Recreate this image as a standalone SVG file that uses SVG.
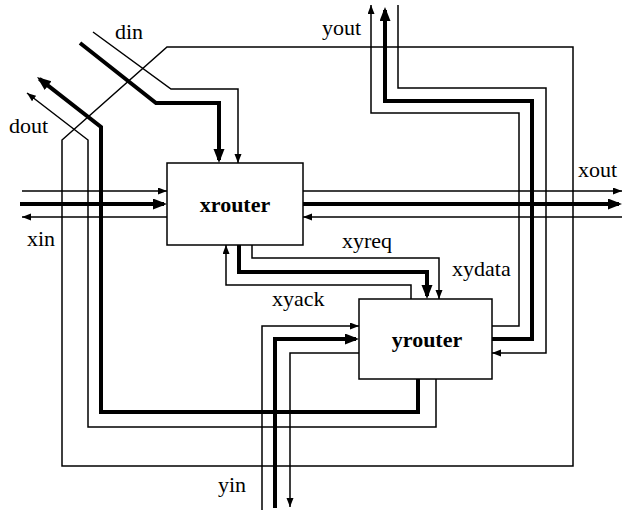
<svg xmlns="http://www.w3.org/2000/svg" width="623" height="510" viewBox="0 0 623 510">
<style>
.thin{fill:none;stroke:#000;stroke-width:1.5}
.thick{fill:none;stroke:#000;stroke-width:4}
.box{fill:#fff;stroke:#000;stroke-width:1.5}
.lbl{font-family:"Liberation Serif",serif;font-size:22px;fill:#000}
.name{font-family:"Liberation Serif",serif;font-size:22px;font-weight:bold;fill:#000;text-anchor:middle}
</style>
<defs>
<marker id="a" markerUnits="userSpaceOnUse" markerWidth="10" markerHeight="8" refX="9" refY="3.5" orient="auto"><path d="M0,0 L9,3.5 L0,7 z" fill="#000"/></marker>
<marker id="A" markerUnits="userSpaceOnUse" markerWidth="15" markerHeight="12" refX="11" refY="5.5" orient="auto"><path d="M0,0 L14,5.5 L0,11 z" fill="#000"/></marker>
</defs>
<rect width="623" height="510" fill="#fff"/>
<g id="connectors">
<path class="thin" d="M62,140 L62,466 L573,466 L573,47 L167,47 Z"/>
<path class="thin" d="M93,32 L171,89 L238,89 L238,163" marker-end="url(#a)"/>
<path class="thick" d="M80,43 L156,103 L219,103 L219,160" marker-end="url(#A)"/>
<path class="thin" d="M436,379 L436,427 L88,427 L88,140 L27,93" marker-end="url(#a)"/>
<path class="thick" d="M418,379 L418,412 L101,412 L101,127 L39.4,78.9" marker-end="url(#A)"/>
<path class="thin" d="M22,191 L167,191" marker-end="url(#a)"/>
<path class="thick" d="M20,204 L164,204" marker-end="url(#A)"/>
<path class="thin" d="M167,217 L22,217" marker-end="url(#a)"/>
<path class="thin" d="M303,191 L622,191" marker-end="url(#a)"/>
<path class="thick" d="M303,204 L619,204" marker-end="url(#A)"/>
<path class="thin" d="M622,217 L303,217" marker-end="url(#a)"/>
<path class="thin" d="M492,326 L519,326 L519,113 L371,113 L371,5" marker-end="url(#a)"/>
<path class="thick" d="M492,339 L532,339 L532,101 L385,101 L385,10" marker-end="url(#A)"/>
<path class="thin" d="M398,5 L398,88 L546,88 L546,353 L492,353" marker-end="url(#a)"/>
<path class="thin" d="M252,245 L252,258 L439,258 L439,299" marker-end="url(#a)"/>
<path class="thick" d="M239,245 L239,272 L427,272 L427,296" marker-end="url(#A)"/>
<path class="thin" d="M411,299 L411,285 L226,285 L226,245" marker-end="url(#a)"/>
<path class="thin" d="M262,510 L262,326 L359,326" marker-end="url(#a)"/>
<path class="thick" d="M275,508 L275,339 L356,339" marker-end="url(#A)"/>
<path class="thin" d="M359,353 L290,353 L290,507" marker-end="url(#a)"/>
</g>
<g id="xrouter">
<rect class="box" x="167" y="163" width="136" height="82"/>
<text class="name" x="235" y="212">xrouter</text>
</g>
<g id="yrouter">
<rect class="box" x="359" y="299" width="133" height="80"/>
<text class="name" x="427" y="347">yrouter</text>
</g>
<g id="labels">
<text class="lbl" x="115" y="39">din</text>
<text class="lbl" x="9" y="133">dout</text>
<text class="lbl" x="27" y="246">xin</text>
<text class="lbl" x="578" y="177">xout</text>
<text class="lbl" x="322" y="35">yout</text>
<text class="lbl" x="342" y="248">xyreq</text>
<text class="lbl" x="452" y="276">xydata</text>
<text class="lbl" x="272" y="306">xyack</text>
<text class="lbl" x="218" y="492">yin</text>
</g>
</svg>
